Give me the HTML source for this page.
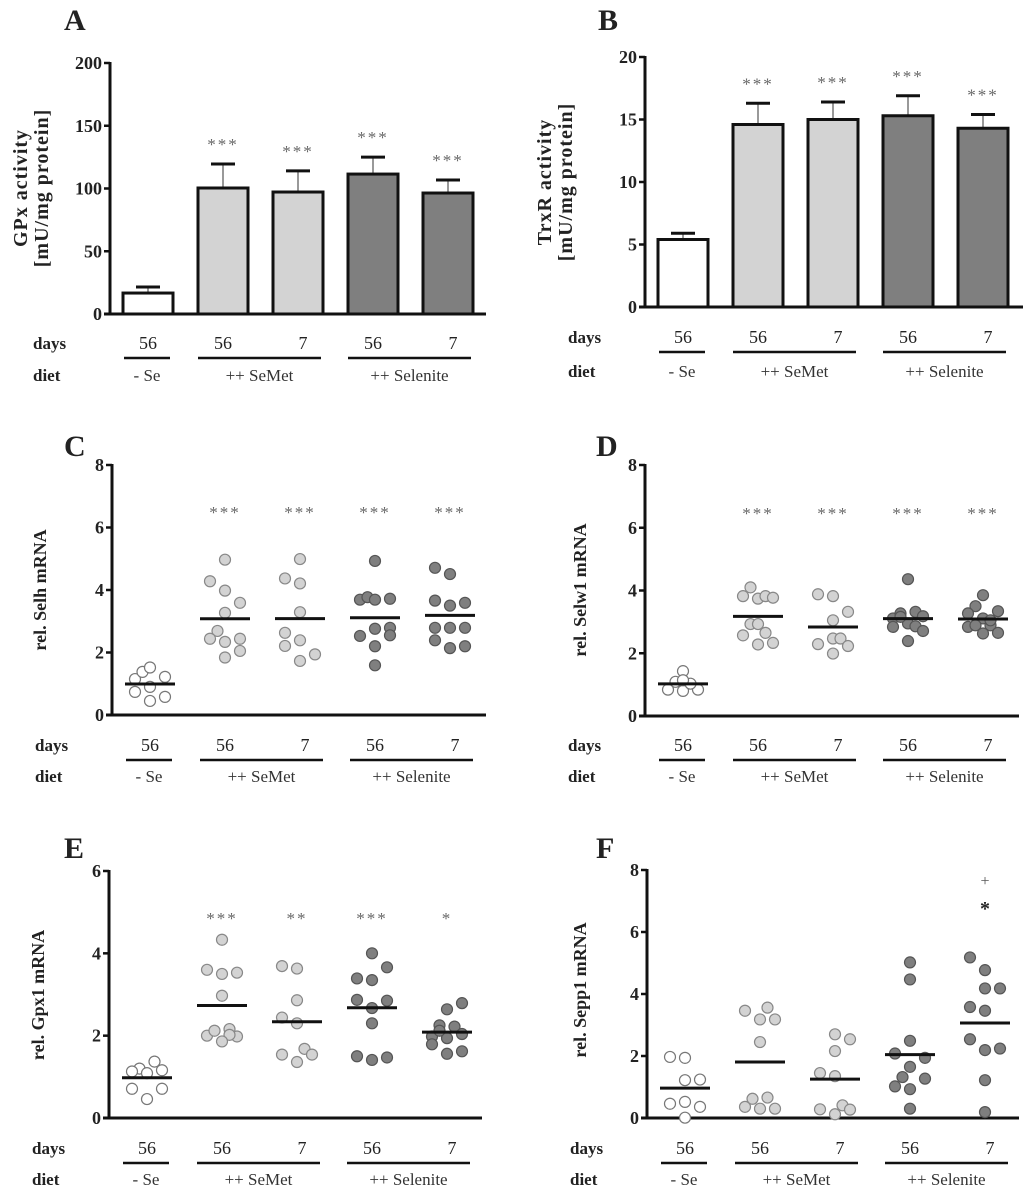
<!DOCTYPE html>
<html><head><meta charset="utf-8"><style>
html,body{margin:0;padding:0;background:#fff;}
svg{display:block;font-family:"Liberation Serif",serif;}
</style></head><body>
<svg id="fig" width="1024" height="1199" viewBox="0 0 1024 1199" xmlns="http://www.w3.org/2000/svg"></svg>
<script>
const dayLabels=["56","56","7","56","7"];
const dietLabels=["- Se","++ SeMet","++ Selenite"];
const fills=["#ffffff","#d3d3d3","#d3d3d3","#7f7f7f","#7f7f7f"];
// Panel A
const aValues=[16.7,100.4,97.2,111.5,96.4];
const aErrors=[21.5,119.5,114,125,106.8];
const aStars=["","***","***","***","***"];
const aTicks=[0,50,100,150,200];
// Panel B
const bValues=[5.4,14.6,15.0,15.3,14.3];
const bErrors=[5.9,16.3,16.4,16.9,15.4];
const bStars=["","***","***","***","***"];
const bTicks=[0,5,10,15,20];
// Panel C
const cValues=[[1.15,1.38,1.52,1.22,0.74,0.9,0.58,0.45],[4.97,4.28,3.98,3.59,3.27,2.69,2.44,2.44,2.34,2.05,1.84],[4.99,4.37,4.21,3.29,2.63,2.39,2.21,1.94,1.73],[4.93,3.69,3.77,3.69,3.72,2.76,2.79,2.53,2.55,2.2,1.59],[4.71,4.51,3.66,3.5,3.59,2.79,2.79,2.79,2.39,2.14,2.2]];
const cJitter=[[-2,-1,0,2,-2,0,2,0],[0,-2,0,2,0,-1,-2,2,0,2,0],[0,-2,0,0,-2,0,-2,2,0],[0,-2,-1,0,2,0,2,-2,2,0,0],[-2,0,-2,0,2,-2,0,2,-2,0,2]];
const cStars=["","***","***","***","***"];
const cTicks=[0,2,4,6,8];
// Panel D
const dValues=[[1.43,0.84,0.8,0.84,1.09,1.03,1.14],[4.1,3.82,3.74,3.82,3.77,2.93,2.93,2.57,2.65,2.28,2.33],[3.88,3.82,3.32,3.05,2.29,2.47,2.47,2.23,1.99],[4.36,3.11,3.27,3.32,3.18,2.84,2.95,2.86,2.71,2.39,3.16],[3.85,3.5,3.27,3.34,3.11,2.84,2.89,2.89,2.63,2.65,3.05]];
const dJitter=[[0,-2,0,2,-1,1,0],[-1,-2,0,1,2,-1,0,-2,1,0,2],[-2,0,2,0,-2,0,1,2,0],[0,-2,-1,1,2,-2,0,1,2,0,-1],[0,-1,-2,2,0,-2,-1,1,0,2,1]];
const dStars=["","***","***","***","***"];
const dTicks=[0,2,4,6,8];
// Panel E
const eValues=[[1.37,1.2,1.13,1.09,1.16,0.71,0.71,0.46],[4.33,3.6,3.5,3.53,2.97,2.0,2.12,2.16,1.98,2.02,1.86],[3.69,3.63,2.86,2.44,2.3,1.54,1.68,1.54,1.36],[4.0,3.66,3.39,3.35,2.87,2.85,2.67,2.3,1.5,1.41,1.47],[2.79,2.64,2.25,2.22,1.98,1.94,2.04,1.79,1.56,1.62,2.12]];
const eJitter=[[1,-1,-2,0,2,-2,2,0],[0,-2,0,2,0,-2,-1,1,2,1,0],[-2,0,0,-2,0,-2,1,2,0],[0,2,-2,0,-2,2,0,0,-2,0,2],[2,0,-1,1,-2,0,2,-2,0,2,-1]];
const eStars=["","***","**","***","*"];
const eTicks=[0,2,4,6];
// Panel F
const fValues=[[1.97,1.94,1.22,1.24,0.46,0.52,0.36,0.01],[3.46,3.56,3.18,3.18,2.45,0.36,0.62,0.66,0.3,0.3],[2.7,2.54,2.16,1.45,1.35,0.28,0.41,0.27,0.12],[5.02,4.47,2.49,2.08,1.94,1.65,1.32,1.27,1.02,0.93,0.3],[5.18,4.77,4.18,4.18,3.58,3.46,2.54,2.19,2.24,1.22,0.19]];
const fJitter=[[-2,0,0,2,-2,0,2,0],[-2,1,0,2,0,-2,-1,1,0,2],[0,2,0,-2,0,-2,1,2,0],[0,0,0,-2,2,0,-1,2,-2,0,0],[-2,0,0,2,-2,0,-2,0,2,0,0]];
const fTicks=[0,2,4,6,8];

const NS="http://www.w3.org/2000/svg";
const svg=document.getElementById('fig');
function mk(tag,attrs,parent,txt){const e=document.createElementNS(NS,tag);for(const k in attrs)e.setAttribute(k,attrs[k]);if(txt!==undefined)e.textContent=txt;(parent||svg).appendChild(e);return e;}

function panel(p){
  const g=mk('g',{});
  
  
  const max=p.ticks[p.ticks.length-1];
  const y=v=>p.y0-(v/max)*(p.y0-p.yTop);
  const xc=i=>p.ax+38+75*i;
  const L=mk('text',{x:p.letter[0],y:p.letter[1],'font-size':30,'font-weight':'bold',fill:'#222'},g,p.id);
  
  
  const ya=mk('line',{x1:p.ax,y1:p.yTop-1,x2:p.ax,y2:p.y0+1.5,stroke:'#111','stroke-width':3},g);
  
  const xa=mk('line',{x1:p.ax-6,y1:p.y0,x2:p.xEnd,y2:p.y0,stroke:'#111','stroke-width':3},g);
  
  p.ticks.forEach(t=>{
    mk('line',{x1:p.ax-6,y1:y(t),x2:p.ax,y2:y(t),stroke:'#111','stroke-width':2.5},g);
    const tl=mk('text',{x:p.ax-8,y:y(t)+6,'font-size':18,'font-weight':'bold','text-anchor':'end',fill:'#222'},g,String(t));
    
  });
  const tt=mk('text',{transform:`translate(${p.title[0]},${p.title[1]}) rotate(-90)`,'font-size':p.titleSize||18,'font-weight':'bold','text-anchor':'middle',fill:'#222','letter-spacing':p.titleLS||0},g);
  
  p.titleLines.forEach((s,i)=>mk('tspan',{x:0,dy:i?21:0},tt,s));
  if(p.bars){
    p.bars.forEach((v,i)=>{
      const c=xc(i),e=p.errs[i];
      mk('line',{x1:c,y1:y(v),x2:c,y2:y(e),stroke:'#555','stroke-width':1.2},g);
      mk('line',{x1:c-12,y1:y(e),x2:c+12,y2:y(e),stroke:'#111','stroke-width':3},g);
      const r=mk('rect',{x:c-25,y:y(v),width:50,height:p.y0-y(v),fill:fills[i],stroke:'#111','stroke-width':3},g);
      
      if(p.stars[i]){const s=mk('text',{x:c,y:y(e)-14,'font-size':17,'text-anchor':'middle',fill:'#666','letter-spacing':2},g,p.stars[i]);
        }
    });
  } else {
    p.dots.forEach((arr,i)=>{
      const c=xc(i);
      arr.forEach((v,j)=>{
        const d=mk('circle',{cx:c+p.jit[i][j]*7.5,cy:y(v),r:5.5,fill:fills[i],stroke:i==0?'#777':(i>2?'#555':'#888'),'stroke-width':1.2},g);
        
      });
      const m=arr.reduce((a,b)=>a+b,0)/arr.length;
      const ml=mk('line',{x1:c-25,y1:y(m),x2:c+25,y2:y(m),stroke:'#111','stroke-width':3},g);
      
      if(p.stars&&p.stars[i]){const s=mk('text',{x:c,y:p.starY,'font-size':17,'text-anchor':'middle',fill:'#666','letter-spacing':2},g,p.stars[i]);
        }
    });
  }
  const r1=p.rows[0],r2=p.rows[1],r3=p.rows[2];
  const dl=mk('text',{x:p.ax-77,y:r1,'font-size':17,'font-weight':'bold',fill:'#222'},g,'days');
  
  const gl=mk('text',{x:p.ax-77,y:r3,'font-size':17,'font-weight':'bold',fill:'#222'},g,'diet');
  
  dayLabels.forEach((s,i)=>{const t=mk('text',{x:xc(i)+(s.length==1?5:0),y:r1,'font-size':18,'text-anchor':'middle',fill:'#222'},g,s);
    });
  const spans=[[xc(0)-24,xc(0)+22],[xc(1)-25,xc(2)+23],[xc(3)-25,xc(4)+23]];
  spans.forEach((s,k)=>{
    const l=mk('line',{x1:s[0],y1:r2,x2:s[1],y2:r2,stroke:'#111','stroke-width':2.5},g);
    
    const t=mk('text',{x:(s[0]+s[1])/2,y:r3,'font-size':17,'text-anchor':'middle',fill:'#333'},g,dietLabels[k]);
    
  });
  return {g,y,xc};
}

panel({id:'A',letter:[64,30],ax:110,y0:314,yTop:63,xEnd:486,ticks:aTicks,bars:aValues,errs:aErrors,stars:aStars,title:[27,188],titleSize:20,titleLS:1,titleLines:['GPx activity','[mU/mg protein]'],rows:[349,358,381]});
panel({id:'B',letter:[598,30],ax:645,y0:307,yTop:57,xEnd:1023,ticks:bTicks,bars:bValues,errs:bErrors,stars:bStars,title:[551,182],titleSize:20,titleLS:1,titleLines:['TrxR activity','[mU/mg protein]'],rows:[343,352,377]});
panel({id:'C',letter:[64,456],ax:112,y0:715,yTop:465,xEnd:486,ticks:cTicks,dots:cValues,jit:cJitter,stars:cStars,starY:518,title:[46,590],titleLines:['rel. Selh mRNA'],rows:[751,760,782]});
panel({id:'D',letter:[596,456],ax:645,y0:716,yTop:465,xEnd:1019,ticks:dTicks,dots:dValues,jit:dJitter,stars:dStars,starY:519,title:[586,590],titleLines:['rel. Selw1 mRNA'],rows:[751,760,782]});
panel({id:'E',letter:[64,858],ax:109,y0:1118,yTop:871,xEnd:482,ticks:eTicks,dots:eValues,jit:eJitter,stars:eStars,starY:924,title:[44,995],titleLines:['rel. Gpx1 mRNA'],rows:[1154,1163,1185]});
const F=panel({id:'F',letter:[596,858],ax:647,y0:1118,yTop:870,xEnd:1019,ticks:fTicks,dots:fValues,jit:fJitter,stars:null,title:[586,990],titleLines:['rel. Sepp1 mRNA'],rows:[1154,1163,1185]});
const plus=mk('text',{x:F.xc(4),y:886,'font-size':16,'text-anchor':'middle',fill:'#555'},F.g,'+');


const st=mk('text',{x:F.xc(4),y:915,'font-size':20,'font-weight':'bold','text-anchor':'middle',fill:'#222'},F.g,'*');


</script>
</body></html>
